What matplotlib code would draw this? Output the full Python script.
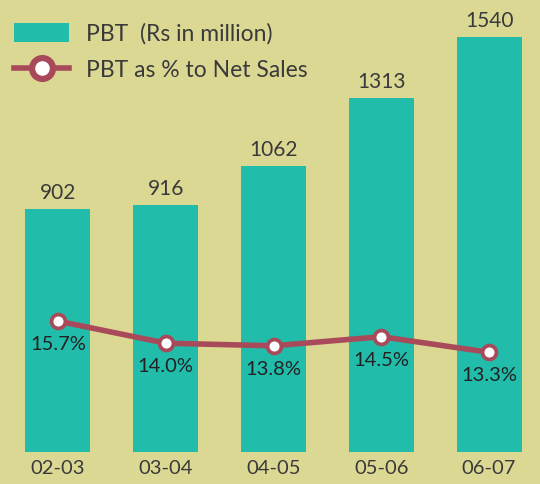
import matplotlib.pyplot as plt
from matplotlib.lines import Line2D
from matplotlib.patches import Patch

# Data
years = ['02-03', '03-04', '04-05', '05-06', '06-07']
pbt = [902, 916, 1062, 1313, 1540]
pbt_pct = [15.7, 14.0, 13.8, 14.5, 13.3]

bg = '#dbd894'
teal = '#21bcaa'
maroon = '#a84a5a'
txt = '#3a3a3a'

plt.rcParams['font.family'] = ['Lato', 'DejaVu Sans']

fig = plt.figure(figsize=(5.4, 4.84), dpi=100, facecolor=bg)
ax = fig.add_axes([0, 32 / 484, 1, 452 / 484])
ax.set_facecolor(bg)

x = list(range(len(years)))
ax.bar(x, pbt, width=0.603, color=teal, zorder=2)
ax.set_xlim(-0.538, 4.473)
ax.set_ylim(0, 1677)

for xi, v in zip(x, pbt):
    ax.annotate(str(v), (xi, v), xytext=(0, 11.5), textcoords='offset points',
                ha='center', va='center', fontsize=15, color=txt)

ax2 = ax.twinx()
ax2.set_ylim(5.63, 40.40)
ax2.plot(x, pbt_pct, color=maroon, lw=4, marker='o', markersize=10,
         markerfacecolor='white', markeredgecolor=maroon, markeredgewidth=2.7,
         zorder=3)
for xi, v in zip(x, pbt_pct):
    ax2.annotate(f'{v:.1f}%', (xi, v), xytext=(0, -17), textcoords='offset points',
                 ha='center', va='center', fontsize=14.5, color='#222222')

ax.set_xticks(x)
ax.set_xticklabels(years, fontsize=14.5, color=txt)
ax.tick_params(axis='x', length=0, pad=6)
ax.set_yticks([])
ax2.set_yticks([])
for a in (ax, ax2):
    for s in a.spines.values():
        s.set_visible(False)

handles = [
    Patch(facecolor=teal, edgecolor='none'),
    Line2D([0], [0], color=maroon, lw=4, marker='o', markersize=15,
           markerfacecolor='white', markeredgecolor=maroon, markeredgewidth=4.5),
]
leg = ax2.legend(handles, ['PBT  (Rs in million)', 'PBT as % to Net Sales'],
                 loc='upper left', bbox_to_anchor=(5 / 540, 1 - 14 / 452),
                 frameon=False, fontsize=16.5, handlelength=2.4,
                 handleheight=0.92, handletextpad=0.74, labelspacing=0.65,
                 borderaxespad=0)
for t in leg.get_texts():
    t.set_color(txt)

fig.savefig('out.png', dpi=100, facecolor=bg)
